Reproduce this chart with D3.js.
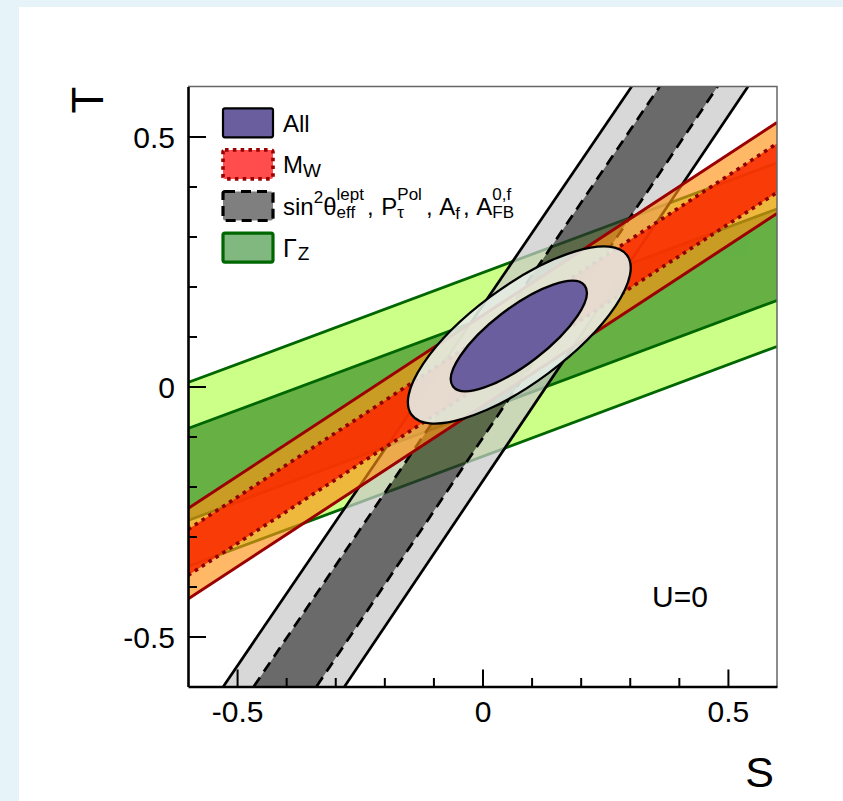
<!DOCTYPE html>
<html>
<head>
<meta charset="utf-8">
<script src="https://cdn.jsdelivr.net/npm/d3@7"></script>
<style>
  html, body { margin: 0; padding: 0; background: #ffffff; }
  svg { display: block; font-family: "Liberation Sans", Arial, Helvetica, sans-serif; }
</style>
</head>
<body>
<svg id="chart" width="843" height="801"></svg>
<script>
// ---- axis ranges and ticks ----
const sDomain = [-0.6, 0.6];
const tDomain = [-0.6, 0.6];
const majorTicks = [-0.5, 0, 0.5];
const minorTicks = [-0.4, -0.3, -0.2, -0.1, 0.1, 0.2, 0.3, 0.4];
const tickLabels = ["-0.5", "0", "0.5"];

// ---- Gamma_Z band: T at S = -0.6 and S = +0.6 for each edge ----
const gzOuterTop    = [0.008, 0.447];
const gzInnerTop    = [-0.084, 0.355];
const gzInnerBottom = [-0.268, 0.172];
const gzOuterBottom = [-0.360, 0.080];

// ---- M_W band: T at S = -0.6 and S = +0.6 ----
const mwOuterTop    = [-0.244, 0.528];
const mwInnerTop    = [-0.286, 0.486];
const mwInnerBottom = [-0.378, 0.388];
const mwOuterBottom = [-0.425, 0.346];

// ---- sin^2 theta band: S at T = -0.6 and T = +0.6 ----
const swOuterLeft  = [-0.528, 0.304];
const swInnerLeft  = [-0.466, 0.361];
const swInnerRight = [-0.338, 0.479];
const swOuterRight = [-0.281, 0.541];

// ---- global fit contours: [S centre, T centre, semi-major, semi-minor, angle in degrees] ----
const fit95 = [0.075, 0.103, 0.273, 0.096, 36.5];
const fit68 = [0.074, 0.101, 0.169, 0.056, 37.5];

// ---- legend entries ----
const legendKeys = ["all", "mw", "sw", "gz"];

// ---------------------------------------------------------------
const svg = d3.select("#chart");
const W = 843, H = 801;

// page frame
svg.append("rect").attr("width", W).attr("height", H).attr("fill", "#e6f3f9");
svg.append("rect").attr("x", 19).attr("y", 7).attr("width", W - 19).attr("height", H - 7).attr("fill", "#ffffff");

const x = d3.scaleLinear().domain(sDomain).range([188, 777]);
const y = d3.scaleLinear().domain(tDomain).range([686.5, 86.5]);

const X0 = x(sDomain[0]), X1 = x(sDomain[1]);
const Y0 = y(tDomain[1]), Y1 = y(tDomain[0]);

svg.append("defs").append("clipPath").attr("id", "plotClip")
  .append("rect").attr("x", X0).attr("y", Y0).attr("width", X1 - X0).attr("height", Y1 - Y0);

const plot = svg.append("g").attr("clip-path", "url(#plotClip)");
const line = d3.line().x(d => x(d[0])).y(d => y(d[1]));

// helpers turning edge values into point lists
const hEdge = e => [[sDomain[0], e[0]], [sDomain[1], e[1]]];
const vEdge = e => [[e[0], tDomain[0]], [e[1], tDomain[1]]];
const hBand = (a, b) => hEdge(a).concat(hEdge(b).reverse());
const vBand = (a, b) => vEdge(a).concat(vEdge(b).reverse());

// ---- Gamma_Z ----
const gz = plot.append("g");
gz.append("path").attr("d", line(hBand(gzOuterTop, gzOuterBottom)) + "Z").attr("fill", "#ccff88");
gz.append("path").attr("d", line(hBand(gzInnerTop, gzInnerBottom)) + "Z").attr("fill", "#66b044");
[gzOuterTop, gzInnerTop, gzInnerBottom, gzOuterBottom].forEach(e => {
  gz.append("path").attr("d", line(hEdge(e))).attr("fill", "none")
    .attr("stroke", "#006600").attr("stroke-width", 2.8);
});

// ---- sin^2 theta_eff ----
const sw = plot.append("g");
const swFill = sw.append("g").attr("opacity", 0.72);
swFill.append("path").attr("d", line(vBand(swOuterLeft, swOuterRight)) + "Z").attr("fill", "#cacaca");
swFill.append("path").attr("d", line(vBand(swInnerLeft, swInnerRight)) + "Z").attr("fill", "#313131");
[swOuterLeft, swOuterRight].forEach(e => {
  sw.append("path").attr("d", line(vEdge(e))).attr("fill", "none")
    .attr("stroke", "#000").attr("stroke-width", 2.7);
});
[swInnerLeft, swInnerRight].forEach(e => {
  sw.append("path").attr("d", line(vEdge(e))).attr("fill", "none")
    .attr("stroke", "#000").attr("stroke-width", 2.7).attr("stroke-dasharray", "11,7");
});

// ---- M_W ----
const mw = plot.append("g");
mw.append("path").attr("d", line(hBand(mwOuterTop, mwOuterBottom)) + "Z")
  .attr("fill", "rgb(255,146,20)").attr("fill-opacity", 0.65);
mw.append("path").attr("d", line(hBand(mwInnerTop, mwInnerBottom)) + "Z")
  .attr("fill", "rgb(250,42,0)").attr("fill-opacity", 0.88);
[mwOuterTop, mwOuterBottom].forEach(e => {
  mw.append("path").attr("d", line(hEdge(e))).attr("fill", "none")
    .attr("stroke", "#9a0000").attr("stroke-width", 3);
});
[mwInnerTop, mwInnerBottom].forEach(e => {
  mw.append("path").attr("d", line(hEdge(e))).attr("fill", "none")
    .attr("stroke", "#8e0000").attr("stroke-width", 3.6).attr("stroke-dasharray", "3.6,4.6");
});

// ---- global fit ellipses ----
function drawEllipse(p, fill, fillOpacity) {
  const [cs, ct, a, b, ang] = p;
  plot.append("ellipse")
    .attr("cx", 0).attr("cy", 0)
    .attr("rx", x(cs + a) - x(cs))
    .attr("ry", y(ct) - y(ct + b))
    .attr("transform", `translate(${x(cs)},${y(ct)}) rotate(${-ang})`)
    .attr("fill", fill).attr("fill-opacity", fillOpacity)
    .attr("stroke", "#000").attr("stroke-width", 2.3);
}
drawEllipse(fit95, "rgb(228,236,228)", 0.9);
drawEllipse(fit68, "#6a5e9e", 1);

// ---- frame and axes ----
svg.append("path").attr("d", `M${X0},${Y0}H${X1}V${Y1}`)
  .attr("fill", "none").attr("stroke", "#666").attr("stroke-width", 1.5);

const fmt = d => tickLabels[majorTicks.indexOf(d)];

const xMajor = svg.append("g").attr("transform", `translate(0,${Y1})`)
  .call(d3.axisBottom(x).tickValues(majorTicks).tickSizeInner(-17).tickSizeOuter(0)
    .tickPadding(14).tickFormat(fmt));
const xMinor = svg.append("g").attr("transform", `translate(0,${Y1})`)
  .call(d3.axisBottom(x).tickValues(minorTicks).tickSizeInner(-8.5).tickSizeOuter(0).tickFormat(""));
const yMajor = svg.append("g").attr("transform", `translate(${X0},0)`)
  .call(d3.axisLeft(y).tickValues(majorTicks).tickSizeInner(-18).tickSizeOuter(0)
    .tickPadding(13).tickFormat(fmt));
const yMinor = svg.append("g").attr("transform", `translate(${X0},0)`)
  .call(d3.axisLeft(y).tickValues(minorTicks).tickSizeInner(-9).tickSizeOuter(0).tickFormat(""));

[xMinor, yMinor].forEach(g => g.select(".domain").remove());
[xMajor, xMinor, yMajor, yMinor].forEach(g => {
  g.selectAll(".tick line").attr("stroke", "#000").attr("stroke-width", 2);
  g.selectAll(".tick text").attr("fill", "#000").style("font-size", "30px")
    .style("font-family", "'Liberation Sans', Arial, sans-serif");
});
[xMajor, yMajor].forEach(g => g.select(".domain").attr("stroke", "#000").attr("stroke-width", 2.6));
yMajor.selectAll(".tick text").attr("dy", "0.35em");

// axis titles
svg.append("text").attr("x", 774).attr("y", 787).attr("text-anchor", "end")
  .style("font-size", "43px").text("S");
svg.append("text").attr("transform", `translate(103,${Y0}) rotate(-90)`).attr("text-anchor", "end")
  .style("font-size", "44px").text("T");

svg.append("text").attr("x", 652).attr("y", 607).style("font-size", "30px").text("U=0");

// ---- legend ----
const legend = svg.append("g");
const boxX = 223, boxW = 50, boxH = 29, rowY0 = 122.8, rowStep = 41.6;

const boxStyle = {
  all: { fill: "#6a5e9e", stroke: "#000", sw: 2.2, dash: null },
  mw:  { fill: "#ff4d4d", stroke: "#990000", sw: 3.6, dash: "3.6,4.2" },
  sw:  { fill: "#7f7f7f", stroke: "#000", sw: 3.2, dash: "10,6" },
  gz:  { fill: "#80b880", stroke: "#006600", sw: 3.2, dash: null }
};

// rich label pieces: plain text, raised/lowered text, or stacked sub/sup
const NB = "\u00a0";
const labelParts = {
  all: [{ t: "All" }],
  mw:  [{ t: "M" }, { t: "W", size: 19, dy: 3.5 }],
  sw:  [{ t: "sin" }, { t: "2", size: 17, dy: -12 }, { t: "θ" },
        { sub: "eff", sup: "lept" }, { t: ",", dx: 3 }, { t: NB + "P", dx: 1 },
        { sub: "τ", sup: "Pol" }, { t: "," + NB + "A", dx: 4 }, { t: "f", size: 17, dy: 4 },
        { t: "," + NB + "A", dx: 3 }, { sub: "FB", sup: "0,f" }],
  gz:  [{ t: "Γ", size: 25 }, { t: "Z", size: 19, dy: 3, dx: 1 }]
};

function richText(g, x0, base, parts) {
  let cx = x0;
  parts.forEach(p => {
    cx += p.dx || 0;
    if (p.sub !== undefined) {
      const a = g.append("text").attr("x", cx).attr("y", base + 3).style("font-size", "17px").text(p.sub);
      const b = g.append("text").attr("x", cx).attr("y", base - 15).style("font-size", "17px").text(p.sup);
      cx += Math.max(a.node().getComputedTextLength(), b.node().getComputedTextLength());
    } else {
      const t = g.append("text").attr("x", cx).attr("y", base + (p.dy || 0))
        .style("font-size", (p.size || 24) + "px").text(p.t);
      cx += t.node().getComputedTextLength();
    }
  });
}

legendKeys.forEach((k, i) => {
  const cy = rowY0 + i * rowStep;
  const st = boxStyle[k];
  legend.append("rect").attr("x", boxX).attr("y", cy - boxH / 2).attr("width", boxW).attr("height", boxH)
    .attr("rx", 2).attr("fill", st.fill).attr("stroke", st.stroke).attr("stroke-width", st.sw)
    .attr("stroke-dasharray", st.dash);
  richText(legend, 283, cy + 9, labelParts[k]);
});
</script>
</body>
</html>
